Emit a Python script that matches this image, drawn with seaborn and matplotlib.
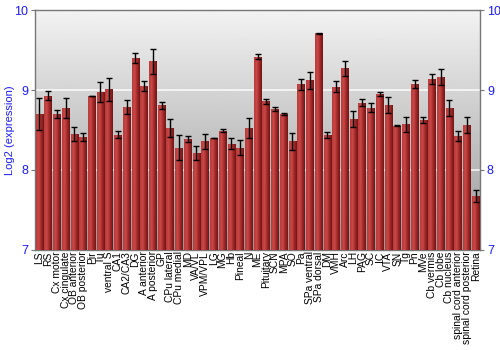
import numpy as np
import pandas as pd
import matplotlib
matplotlib.use("Agg")
import matplotlib.pyplot as plt
import seaborn as sns
from matplotlib.colors import LinearSegmentedColormap

regions = ["LS", "RS", "Cx motor", "Cx cingulate", "OB anterior", "OB posterior", "Pir", "Tu",
           "ventral S", "CA1", "CA2/CA3", "DG", "A anterior", "A posterior", "GP", "CPu lateral",
           "CPu medial", "MD", "VA/VL", "VPM/VPL", "LG", "MG", "Hb", "Pineal", "N", "ME",
           "Pituitary", "SCN", "MPA", "SO", "Pa", "SPa ventral", "SPa dorsal", "DM", "VMH", "Arc",
           "LH", "PAG", "SC", "IC", "VTA", "SN", "Tg", "Pn", "MVe", "Cb vermis", "Cb lobe",
           "Cb nucleus", "spinal cord anterior", "spinal cord posterior", "Retina"]
expression = [8.70, 8.93, 8.70, 8.77, 8.45, 8.41, 8.925, 8.975,
              9.01, 8.44, 8.79, 9.40, 9.05, 9.36, 8.81, 8.525,
              8.28, 8.39, 8.21, 8.36, 8.40, 8.49, 8.33, 8.28, 8.52, 9.42,
              8.86, 8.76, 8.70, 8.36, 9.07, 9.12, 9.71, 8.44, 9.04, 9.27,
              8.64, 8.84, 8.78, 8.95, 8.81, 8.555, 8.57, 9.08, 8.625, 9.14, 9.16,
              8.775, 8.425, 8.56, 7.675]
sem = [0.20, 0.06, 0.055, 0.125, 0.085, 0.05, 0.005, 0.13,
       0.145, 0.045, 0.09, 0.06, 0.065, 0.16, 0.045, 0.11,
       0.16, 0.035, 0.09, 0.095, 0.005, 0.02, 0.07, 0.09, 0.125, 0.03,
       0.03, 0.025, 0.015, 0.105, 0.065, 0.11, 0.01, 0.04, 0.07, 0.09,
       0.10, 0.045, 0.06, 0.02, 0.10, 0.005, 0.09, 0.05, 0.035, 0.06, 0.10,
       0.105, 0.065, 0.10, 0.07]
yticks = [7, 8, 9, 10]

df = pd.DataFrame({"region": regions, "expression": expression, "sem": sem})

sns.set_style("white")
plt.rcParams["font.family"] = ["Liberation Sans", "DejaVu Sans"]

fig = plt.figure(figsize=(5, 3.5), dpi=100)
ax = fig.add_axes([0.07, 0.286, 0.89, 0.685])

blue = "#1a1aff"
sns.barplot(data=df, x="region", y="expression", color="#a83232", width=0.86,
            errorbar=None, ax=ax, zorder=3, linewidth=0)

ax.set_ylim(7, 10)
ax.set_xlim(-0.5, len(regions) - 0.5)

# background gradient
bg = np.linspace(0.60, 0.95, 256).reshape(-1, 1)
ax.imshow(bg, cmap="gray", vmin=0, vmax=1, aspect="auto", origin="lower",
          extent=[-0.5, len(regions) - 0.5, 7, 10], zorder=0)

# horizontal gradient on bars
barcmap = LinearSegmentedColormap.from_list("bar", ["#b83a3a", "#c94848", "#a02828", "#6e1515"])
grad = np.linspace(0, 1, 64).reshape(1, -1)
for p in ax.patches:
    x0, y0 = p.get_x(), p.get_y()
    w, h = p.get_width(), p.get_height()
    im = ax.imshow(grad, cmap=barcmap, aspect="auto", origin="lower",
                   extent=[x0, x0 + w, 7, y0 + h], zorder=3.5)
    im.set_clip_path(p)

ax.errorbar(np.arange(len(regions)), df["expression"], yerr=df["sem"], fmt="none",
            ecolor="black", elinewidth=1.0, capsize=2.2, capthick=1.0, zorder=5)

for y in [8, 9]:
    ax.axhline(y, color="white", lw=1.2, alpha=0.85, zorder=1)

ax.set_yticks(yticks)
ax.set_yticklabels([str(t) for t in yticks])
ax.tick_params(axis="y", which="both", left=True, right=True, labelleft=True, labelright=True,
               labelcolor=blue, labelsize=9, length=3, color="#777777", pad=2)
ax.tick_params(axis="x", length=0, labelsize=7.4, pad=1, labelcolor="black")
plt.setp(ax.get_xticklabels(), rotation=90)

ax.set_xlabel("")
ax.set_ylabel("Log2 (expression)", color=blue, fontsize=8)
ax.yaxis.set_label_coords(-0.045, 0.5)

for s in ax.spines.values():
    s.set_color("#777777")
    s.set_linewidth(1)

fig.savefig("out.png", dpi=100, facecolor="white")
